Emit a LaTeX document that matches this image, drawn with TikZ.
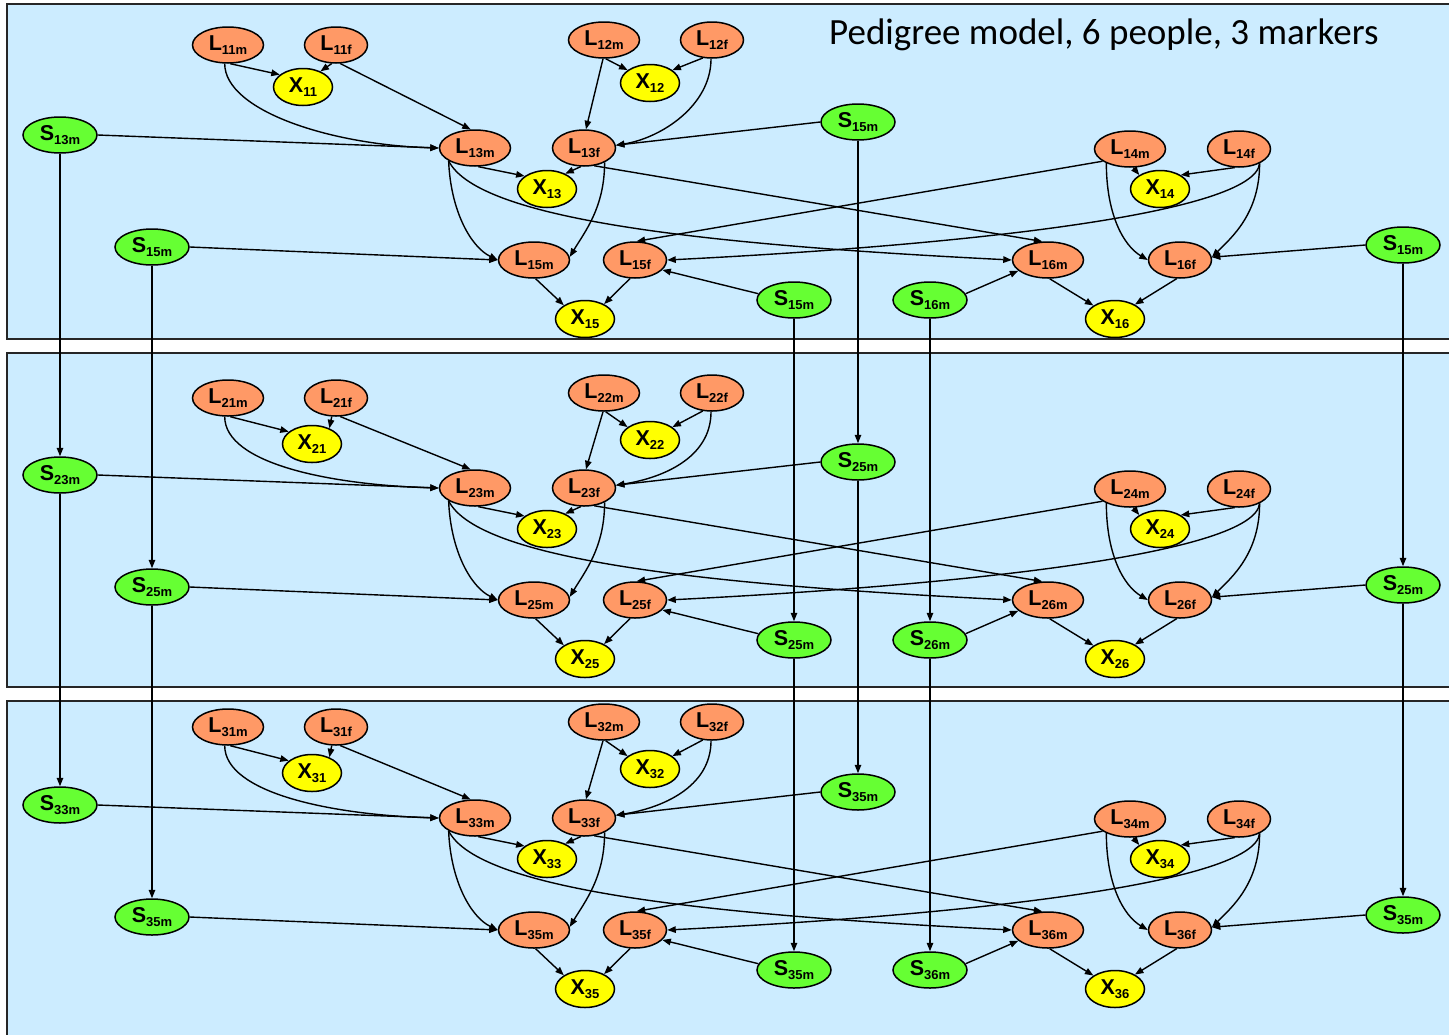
\documentclass[tikz,border=0pt]{standalone}
\usepackage{fontspec}
\setmainfont{Liberation Sans}
\newfontfamily\titlefont{Carlito}
\usetikzlibrary{shapes.geometric,arrows.meta}

\definecolor{panelblue}{HTML}{CCECFF}
\definecolor{lnode}{HTML}{FF9966}
\definecolor{xnode}{HTML}{FFFF00}
\definecolor{snode}{HTML}{66FF33}

% variable label: big letter with a lowered index
\newcommand\nlab[2]{\bfseries{\fontsize{21.5}{20}\selectfont #1}\raisebox{-4.5pt}{\fontsize{13}{12}\selectfont #2}}

\tikzset{
  panel/.style={draw=black!85, line width=1.8pt, fill=panelblue},
  var/.style={ellipse, draw=black, line width=1.5pt, inner sep=0pt, minimum height=36pt},
  lm/.style={var, fill=lnode, minimum width=71pt},
  lf/.style={var, fill=lnode, minimum width=63pt},
  xv/.style={var, fill=xnode, minimum width=59pt, minimum height=37pt},
  sv/.style={var, fill=snode, minimum width=74pt},
  edge/.style={line width=1.4pt, -{Triangle[length=8.5pt,width=6.5pt]}},
}

\begin{document}
\begin{tikzpicture}[x=1pt, y=-1pt]
\path[use as bounding box, clip] (0,0) rectangle (1449,1034);
\fill[white] (0,0) rectangle (1449,1034);

% the three time slices
\draw[panel] (7,4) rectangle (1462,339);
\draw[panel] (7,353) rectangle (1462,687);
\draw[panel] (7,701) rectangle (1462,1048);

\node[anchor=base west, inner sep=0pt, font=\titlefont\fontsize{37}{37}\selectfont] (title) at (829,44)
  {Pedigree model, 6 people, 3 markers};

% one slice per marker: \p = marker, \dm = shift of main rows, \dt = shift of top row
\foreach \p/\dm/\dt/\xa/\dxt in {1/0/0/303/-4, 2/340/353/312/0, 3/670/682/312/0} {
  % founders and their observations
  \node[lm] (L\p1m) at (228,45+\dt) {\nlab{L}{\p1m}};
  \node[lf] (L\p1f) at (336,45+\dt) {\nlab{L}{\p1f}};
  \node[xv] (X\p1)  at (\xa,91+\dt+\dxt) {\nlab{X}{\p1}};
  \node[lm] (L\p2m) at (604,40+\dt) {\nlab{L}{\p2m}};
  \node[lf] (L\p2f) at (712,40+\dt) {\nlab{L}{\p2f}};
  \node[xv] (X\p2)  at (650,87+\dt+\dxt) {\nlab{X}{\p2}};
  % middle generation
  \node[sv] (Sa\p)  at (858,122+\dm) {\nlab{S}{\p5m}};
  \node[lm] (L\p3m) at (475,148+\dm) {\nlab{L}{\p3m}};
  \node[lf] (L\p3f) at (584,148+\dm) {\nlab{L}{\p3f}};
  \node[xv] (X\p3)  at (547,189+\dm) {\nlab{X}{\p3}};
  \node[lm] (L\p4m) at (1130,149+\dm) {\nlab{L}{\p4m}};
  \node[lf] (L\p4f) at (1239,149+\dm) {\nlab{L}{\p4f}};
  \node[xv] (X\p4)  at (1160,189+\dm) {\nlab{X}{\p4}};
  \node[sv] (S\p3m) at (60,135+\dm) {\nlab{S}{\p3m}};
  % children
  \node[sv] (Sb\p)  at (152,247+\dm) {\nlab{S}{\p5m}};
  \node[lm] (L\p5m) at (534,260+\dm) {\nlab{L}{\p5m}};
  \node[lf] (L\p5f) at (635,260+\dm) {\nlab{L}{\p5f}};
  \node[xv] (X\p5)  at (585,319+\dm) {\nlab{X}{\p5}};
  \node[sv] (Sc\p)  at (794,300+\dm) {\nlab{S}{\p5m}};
  \node[sv] (S\p6m) at (930,300+\dm) {\nlab{S}{\p6m}};
  \node[lm] (L\p6m) at (1048,260+\dm) {\nlab{L}{\p6m}};
  \node[lf] (L\p6f) at (1180,260+\dm) {\nlab{L}{\p6f}};
  \node[xv] (X\p6)  at (1115,319+\dm) {\nlab{X}{\p6}};
  \node[sv] (Sd\p)  at (1403,245+\dm) {\nlab{S}{\p5m}};

  % dependencies
  \draw[edge] (L\p1m.-83) -- (X\p1.152);
  \draw[edge] (L\p1f.-103) -- (X\p1.42);
  \draw[edge] (L\p1m.-100) .. controls +(0,47) and +(-108,-3) .. (L\p3m.180);
  \draw[edge] (L\p1f.-77) -- (L\p3m.103);
  \draw[edge] (S\p3m.0) -- (L\p3m.180);
  \draw[edge] (L\p2m.-85) -- (X\p2.150);
  \draw[edge] (L\p2f.-117) -- (X\p2.30);
  \draw[edge] (L\p2m.-93) -- (L\p3f.84);
  \draw[edge] (L\p2f.-93) .. controls +(0,47) and +(45,-7) .. (L\p3f.5);
  \draw[edge] (Sa\p.180) -- (L\p3f.5);
  \draw[edge] (L\p3m.-80) -- (X\p3.150);
  \draw[edge] (L\p3f.-100) -- (X\p3.40);
  \draw[edge] (L\p3m.-154) .. controls +(2,50) and +(-27,-13) .. (L\p5m.180);
  \draw[edge] (L\p3f.-35) .. controls +(0,45) and +(15,-25) .. (L\p5m.5);
  \draw[edge] (L\p3m.-154) .. controls +(30,60) and +(-300,-15) .. (L\p6m.180);
  \draw[edge] (L\p3f.-60) -- (L\p6m.107);
  \draw[edge] (L\p4m.-156) -- (L\p5f.85);
  \draw[edge] (L\p4f.-35) .. controls +(-5,50) and +(300,-15) .. (L\p5f.0);
  \draw[edge] (L\p4m.-80) -- (X\p4.146);
  \draw[edge] (L\p4f.-103) -- (X\p4.34);
  \draw[edge] (L\p4m.-149) .. controls +(0,50) and +(-25,-15) .. (L\p6f.180);
  \draw[edge] (L\p4f.-35) .. controls +(0,50) and +(20,-20) .. (L\p6f.5);
  \draw[edge] (Sd\p.180) -- (L\p6f.5);
  \draw[edge] (Sb\p.0) -- (L\p5m.180);
  \draw[edge] (Sc\p.170) -- (L\p5f.-20);
  \draw[edge] (S\p6m.10) -- (L\p6m.-160);
  \draw[edge] (L\p5m.-85) -- (X\p5.147);
  \draw[edge] (L\p5f.-105) -- (X\p5.38);
  \draw[edge] (L\p6m.-85) -- (X\p6.148);
  \draw[edge] (L\p6f.-100) -- (X\p6.36);
}

% selector chains from one marker to the next
\foreach \a/\b in {1/2, 2/3} {
  \draw[edge] (S\a3m) -- (S\b3m);
  \draw[edge] (Sb\a) -- (Sb\b);
  \draw[edge] (Sa\a) -- (Sa\b);
  \draw[edge] (Sc\a) -- (Sc\b);
  \draw[edge] (S\a6m) -- (S\b6m);
  \draw[edge] (Sd\a) -- (Sd\b);
}
\end{tikzpicture}
\end{document}
